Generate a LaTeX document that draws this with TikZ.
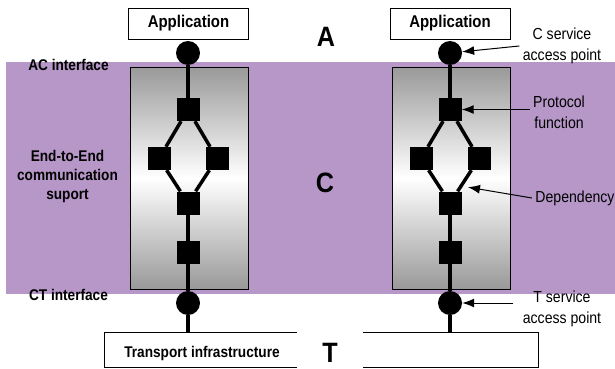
\documentclass[tikz,border=0pt]{standalone}
\usepackage{fontspec}
\setmainfont{Liberation Sans}
\newfontfamily\narrowsf{Liberation Sans}[FakeStretch=0.88]
\newfontfamily\bigsf{Liberation Sans}[FakeStretch=0.9]
\usetikzlibrary{arrows.meta}
\definecolor{bandpurple}{RGB}{182,151,199}

\begin{document}
\begin{tikzpicture}[x=1pt,y=-1pt,>={Latex[length=12pt,width=9pt]},
    pf/.style={fill=black,minimum size=23pt,inner sep=0pt},
    sap/.style={circle,fill=black,minimum size=24pt,inner sep=0pt},
    cbox/.style={draw,line width=0.8pt,top color=gray!80,bottom color=gray!80,middle color=white,minimum width=118pt,minimum height=222pt},
    appbox/.style={draw,fill=white,line width=0.8pt,minimum width=120pt,minimum height=31pt},
    lbl/.style={font=\narrowsf\bfseries\fontsize{15.5}{19}\selectfont,align=center},
    note/.style={font=\narrowsf\fontsize{16}{21}\selectfont,align=center},
    layer/.style={font=\bigsf\bfseries\fontsize{28}{30}\selectfont},
    link/.style={line width=3.5pt},
    ptr/.style={->,line width=1pt}]
        \useasboundingbox (0,0) rectangle (615,369);
        \fill[bandpurple] (6,62) rectangle (615,294);
        \node[appbox,lbl,font=\narrowsf\bfseries\fontsize{17}{19}\selectfont] (app1) at (188.5,23.5) {Application};
        \node[appbox,lbl,font=\narrowsf\bfseries\fontsize{17}{19}\selectfont] (app2) at (450,23.5) {Application};
        \node[cbox] (cs1) at (189,178) {};
        \node[cbox] (cs2) at (451,178) {};
        \node[draw,line width=0.8pt,minimum width=434pt,minimum height=35pt] (tp) at (321,349.5) {};
        \node[lbl] (tptxt) at (202,353) {Transport infrastructure};
        \node[layer,fill=white,minimum width=66pt,minimum height=56pt] (lt) at (330,353) {T};
        \node[layer] (la) at (326,37) {A};
        \node[layer] (lc) at (325,183) {C};
        \node[lbl] (acif) at (68.5,65) {AC interface};
        \node[lbl] (e2e) at (67.5,176) {End-to-End\\communication\\suport};
        \node[lbl] (ctif) at (68.5,295) {CT interface};
        \node[sap] (s11) at (188,53) {};
        \node[pf] (f11) at (188,109.5) {};
        \node[pf] (f21) at (159,158.5) {};
        \node[pf] (f22) at (217,158.5) {};
        \node[pf] (f31) at (188,203) {};
        \node[pf] (f41) at (188,252.5) {};
        \node[sap] (s12) at (188,303) {};
        \node[sap] (s21) at (450,53) {};
        \node[pf] (f12) at (450,109.5) {};
        \node[pf] (f23) at (421,158.5) {};
        \node[pf] (f24) at (479,158.5) {};
        \node[pf] (f32) at (450,203) {};
        \node[pf] (f42) at (450,252.5) {};
        \node[sap] (s22) at (450,303) {};
        \draw[link] (s11) -- (f11);
        \draw[link] (f11) -- (f21);
        \draw[link] (f11) -- (f22);
        \draw[link] (f21) -- (f31);
        \draw[link] (f22) -- (f31);
        \draw[link] (f31) -- (f41);
        \draw[link] (f41) -- (s12);
        \draw[link] (s12) -- (s12 |- tp.north);
        \draw[link] (s21) -- (f12);
        \draw[link] (f12) -- (f23);
        \draw[link] (f12) -- (f24);
        \draw[link] (f23) -- (f32);
        \draw[link] (f24) -- coordinate[pos=0.75] (dp) (f32);
        \draw[link] (f32) -- (f42);
        \draw[link] (f42) -- (s22);
        \draw[link] (s22) -- (s22 |- tp.north);
        \node[note] (nc) at (562,46) {C service\\access point};
        \node[note] (np) at (559,112) {Protocol\\function};
        \node[note] (nd) at (575,198) {Dependency};
        \node[note] (nt) at (562,309) {T service\\access point};
        \draw[ptr] (nc.west) -- (s21);
        \draw[ptr] (np.west |- f12) -- (f12);
        \draw[ptr,shorten >=7pt] (nd.west) -- (dp);
        \draw[ptr,shorten <=6pt] (nt.west |- s22) -- (s22);
      \end{tikzpicture}
\end{document}
